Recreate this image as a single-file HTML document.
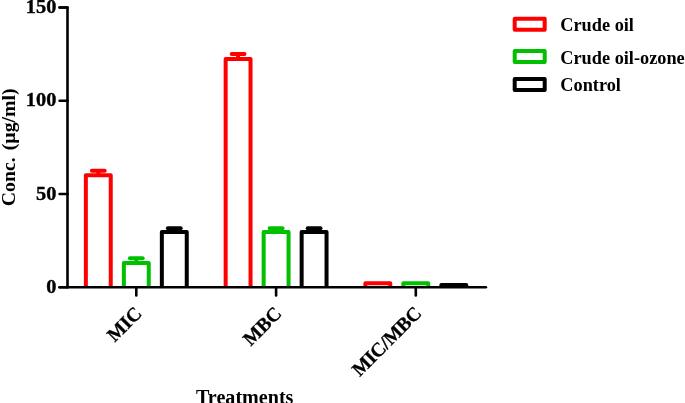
<!DOCTYPE html>
<html><head><meta charset="utf-8"><style>
html,body{margin:0;padding:0;background:#fff;}
body{width:685px;height:403px;overflow:hidden;}
svg{display:block;will-change:transform;}
text{font-family:"Liberation Serif",serif;font-weight:bold;fill:#000;}
.t{font-size:19.2px;stroke:#000;stroke-width:0.35px;}
.xl{font-size:19.5px;stroke:#000;stroke-width:0.3px;}
.lg{font-size:18.3px;}
</style></head><body>
<svg width="685" height="403" viewBox="0 0 685 403">
<line x1="98.30" y1="170.69" x2="98.30" y2="175.36" stroke="#ff0000" stroke-width="4"/>
<line x1="91.90" y1="170.69" x2="104.70" y2="170.69" stroke="#ff0000" stroke-width="4" stroke-linecap="round"/>
<path d="M85.85 287.30V175.36H110.75V287.30" fill="none" stroke="#ff0000" stroke-width="4.0" stroke-linejoin="round"/>
<line x1="136.30" y1="258.20" x2="136.30" y2="263.05" stroke="#00c000" stroke-width="4"/>
<line x1="129.90" y1="258.20" x2="142.70" y2="258.20" stroke="#00c000" stroke-width="4" stroke-linecap="round"/>
<path d="M123.85 287.30V263.05H148.75V287.30" fill="none" stroke="#00c000" stroke-width="4.0" stroke-linejoin="round"/>
<line x1="174.30" y1="228.34" x2="174.30" y2="232.08" stroke="#000000" stroke-width="4"/>
<line x1="167.90" y1="228.34" x2="180.70" y2="228.34" stroke="#000000" stroke-width="4" stroke-linecap="round"/>
<path d="M161.85 287.30V232.08H186.75V287.30" fill="none" stroke="#000000" stroke-width="4.0" stroke-linejoin="round"/>
<line x1="238.10" y1="54.09" x2="238.10" y2="59.12" stroke="#ff0000" stroke-width="4"/>
<line x1="231.70" y1="54.09" x2="244.50" y2="54.09" stroke="#ff0000" stroke-width="4" stroke-linecap="round"/>
<path d="M225.65 287.30V59.12H250.55V287.30" fill="none" stroke="#ff0000" stroke-width="4.0" stroke-linejoin="round"/>
<line x1="276.10" y1="228.34" x2="276.10" y2="232.08" stroke="#00c000" stroke-width="4"/>
<line x1="269.70" y1="228.34" x2="282.50" y2="228.34" stroke="#00c000" stroke-width="4" stroke-linecap="round"/>
<path d="M263.65 287.30V232.08H288.55V287.30" fill="none" stroke="#00c000" stroke-width="4.0" stroke-linejoin="round"/>
<line x1="314.10" y1="228.34" x2="314.10" y2="232.08" stroke="#000000" stroke-width="4"/>
<line x1="307.70" y1="228.34" x2="320.50" y2="228.34" stroke="#000000" stroke-width="4" stroke-linecap="round"/>
<path d="M301.65 287.30V232.08H326.55V287.30" fill="none" stroke="#000000" stroke-width="4.0" stroke-linejoin="round"/>
<path d="M365.35 287.30V283.20H390.25V287.30" fill="none" stroke="#ff0000" stroke-width="4.0" stroke-linejoin="round"/>
<path d="M403.35 287.30V283.20H428.25V287.30" fill="none" stroke="#00c000" stroke-width="4.0" stroke-linejoin="round"/>
<path d="M441.35 287.30V285.06H466.25V287.30" fill="none" stroke="#000000" stroke-width="4.0" stroke-linejoin="round"/>
<g stroke="#000" stroke-width="2.6" stroke-linecap="round" stroke-linejoin="round" fill="none">
<path d="M59.6 7.45H67.5V287.3"/>
<line x1="59.6" y1="287.3" x2="485.9" y2="287.3"/>
<line x1="59.6" y1="287.30" x2="67.5" y2="287.30"/>
<line x1="59.6" y1="194.02" x2="67.5" y2="194.02"/>
<line x1="59.6" y1="100.73" x2="67.5" y2="100.73"/>
<line x1="59.6" y1="7.45" x2="67.5" y2="7.45"/>
<line x1="136.3" y1="287.3" x2="136.3" y2="295.5"/>
<line x1="276.1" y1="287.3" x2="276.1" y2="295.5"/>
<line x1="415.8" y1="287.3" x2="415.8" y2="295.5"/>
</g>
<text transform="translate(56.3,292.90) scale(1.06,1)" text-anchor="end" class="t">0</text>
<text transform="translate(56.3,199.62) scale(1.06,1)" text-anchor="end" class="t">50</text>
<text transform="translate(56.3,106.33) scale(1.06,1)" text-anchor="end" class="t">100</text>
<text transform="translate(56.3,13.05) scale(1.06,1)" text-anchor="end" class="t">150</text>
<text transform="translate(143.00,314.50) rotate(-45)" text-anchor="end" class="xl">MIC</text>
<text transform="translate(282.80,314.50) rotate(-45)" text-anchor="end" class="xl">MBC</text>
<text transform="translate(422.50,314.50) rotate(-45)" text-anchor="end" class="xl" letter-spacing="-0.3">MIC/MBC</text>
<text transform="translate(14.9,147.3) rotate(-90)" text-anchor="middle" word-spacing="2" style="font-size:19.8px">Conc. (µg/ml)</text>
<text x="244.7" y="404.0" text-anchor="middle" style="font-size:20.1px">Treatments</text>
<g fill="none" stroke-width="4" stroke-linejoin="round">
<rect x="514.7" y="18.8" width="30" height="11" stroke="#ff0000"/>
<rect x="514.7" y="50.9" width="30" height="11" stroke="#00c000"/>
<rect x="514.7" y="78.9" width="30" height="11" stroke="#000"/>
</g>
<text x="560.3" y="31" class="lg">Crude oil</text>
<text x="560.3" y="63.8" class="lg">Crude oil-ozone</text>
<text x="560.3" y="91.4" class="lg">Control</text>
</svg>
</body></html>
